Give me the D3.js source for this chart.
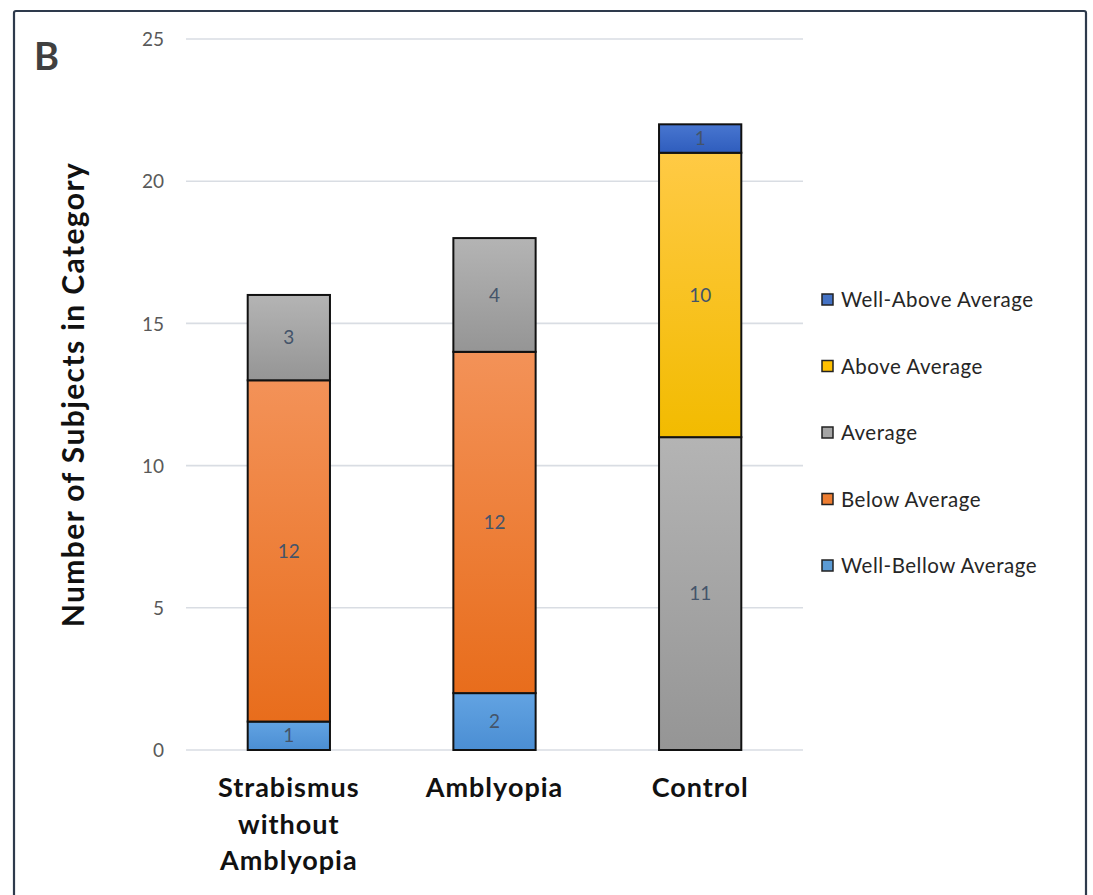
<!DOCTYPE html>
<html>
<head>
<meta charset="utf-8">
<script src="https://cdn.jsdelivr.net/npm/d3@7"></script>
<style>
  html, body { margin: 0; padding: 0; background: #ffffff; }
  svg { display: block; }
</style>
</head>
<body>
<svg id="chart" width="1093" height="895"></svg>
<script>
// Subject counts per group, stacked from the lowest performance band upward
const groups = ["Strabismus without Amblyopia", "Amblyopia", "Control"];
const groupLines = [["Strabismus", "without", "Amblyopia"], ["Amblyopia"], ["Control"]];
const seriesNames = ["Well-Bellow Average", "Below Average", "Average", "Above Average", "Well-Above Average"];
const wellBelow = [1, 2, 0];
const below = [12, 12, 0];
const average = [3, 4, 11];
const above = [0, 0, 10];
const wellAbove = [0, 0, 1];
const yTicks = [0, 5, 10, 15, 20, 25];

// gradient stops (top, bottom) for each band
const seriesColors = [
  ["#62a3e2", "#4b8ed3"],
  ["#f39258", "#e86d1c"],
  ["#b4b4b4", "#959595"],
  ["#ffca45", "#f2bb00"],
  ["#4876d0", "#2f5dbd"]
];
const legendColors = ["#5b9bd5", "#ed7d31", "#a5a5a5", "#ffc000", "#4472c4"];

const table = groups.map((g, i) => ({
  group: g,
  "Well-Bellow Average": wellBelow[i],
  "Below Average": below[i],
  "Average": average[i],
  "Above Average": above[i],
  "Well-Above Average": wellAbove[i]
}));
const stacked = d3.stack().keys(seriesNames)(table);

const svg = d3.select("#chart");
const font = "Lato, 'Open Sans', sans-serif";

// outer frame
svg.append("rect")
  .attr("x", 14).attr("y", 11).attr("width", 1072).attr("height", 900)
  .attr("fill", "#ffffff").attr("stroke", "#2e3a4c").attr("stroke-width", 2.2).attr("rx", 2);

const defs = svg.append("defs");
seriesColors.forEach((c, i) => {
  const lg = defs.append("linearGradient").attr("id", "grad" + i)
    .attr("x1", 0).attr("y1", 0).attr("x2", 0).attr("y2", 1);
  lg.append("stop").attr("offset", "0%").attr("stop-color", c[0]);
  lg.append("stop").attr("offset", "100%").attr("stop-color", c[1]);
});

const x = d3.scaleBand().domain(groups).range([186, 803]).paddingInner(0.6).paddingOuter(0.3);
const y = d3.scaleLinear().domain([0, 25]).range([750, 39]);

// gridlines
svg.append("g").selectAll("line").data(yTicks).join("line")
  .attr("x1", 186).attr("x2", 803)
  .attr("y1", d => y(d)).attr("y2", d => y(d))
  .attr("stroke", "#d9dde3").attr("stroke-width", 1.6);

// y tick labels
const yAxis = d3.axisLeft(y).tickValues(yTicks).tickSize(0).tickPadding(0);
const yg = svg.append("g").attr("transform", "translate(164,0)").call(yAxis);
yg.select(".domain").remove();
yg.selectAll("text")
  .attr("font-family", font)
  .attr("font-size", 19).attr("fill", "#595959").attr("dy", "0.35em");

// stacked bars
const layers = svg.append("g").selectAll("g").data(stacked).join("g")
  .attr("fill", (d, i) => `url(#grad${i})`);
layers.selectAll("rect").data(d => d.filter(p => p[1] - p[0] > 0)).join("rect")
  .attr("x", p => x(p.data.group))
  .attr("width", x.bandwidth())
  .attr("y", p => y(p[1]))
  .attr("height", p => y(p[0]) - y(p[1]))
  .attr("stroke", "#111111").attr("stroke-width", 2);

// value labels
layers.selectAll("text").data(d => d.filter(p => p[1] - p[0] > 0)).join("text")
  .attr("x", p => x(p.data.group) + x.bandwidth() / 2)
  .attr("y", p => (y(p[0]) + y(p[1])) / 2)
  .attr("dy", "0.35em")
  .attr("text-anchor", "middle")
  .attr("font-family", font)
  .attr("font-size", 19).attr("fill", "#44546a")
  .text(p => p[1] - p[0]);

// category labels
const xg = svg.append("g");
groups.forEach((g, i) => {
  const cx = x(g) + x.bandwidth() / 2;
  const t = xg.append("text")
    .attr("x", cx)
    .attr("y", 797)
    .attr("text-anchor", "middle")
    .attr("font-family", font)
    .attr("font-weight", "bold")
    .attr("letter-spacing", 1)
    .attr("font-size", 27).attr("fill", "#111111");
  groupLines[i].forEach((line, j) => {
    t.append("tspan").attr("x", cx).attr("dy", j === 0 ? 0 : 36.5).text(line);
  });
});

// y axis title
svg.append("text")
  .attr("transform", `translate(84,${(y(0) + y(25)) / 2}) rotate(-90)`)
  .attr("text-anchor", "middle")
  .attr("font-family", font)
  .attr("font-weight", "bold")
  .attr("letter-spacing", 1.4)
  .attr("font-size", 30).attr("fill", "#111111")
  .text("Number of Subjects in Category");

// panel letter
svg.append("text")
  .attr("x", 34).attr("y", 70)
  .attr("font-family", font)
  .attr("font-weight", "bold")
  .attr("font-size", 38).attr("fill", "#404040")
  .text("B");

// legend, top entry is the top of the stack
const legendOrder = seriesNames.map((n, i) => i).reverse();
const lg = svg.append("g").selectAll("g").data(legendOrder).join("g")
  .attr("transform", (d, k) => `translate(822,${300 + k * 66.5})`);
lg.append("rect").attr("x", 0).attr("y", -6).attr("width", 11).attr("height", 11)
  .attr("fill", d => legendColors[d]).attr("stroke", "#222222").attr("stroke-width", 1.5);
lg.append("text").attr("x", 19).attr("y", 0).attr("dy", "0.35em")
  .attr("font-family", font)
  .attr("letter-spacing", 0.5)
  .attr("font-size", 20.5).attr("fill", "#262626")
  .text(d => seriesNames[d]);
</script>
</body>
</html>
